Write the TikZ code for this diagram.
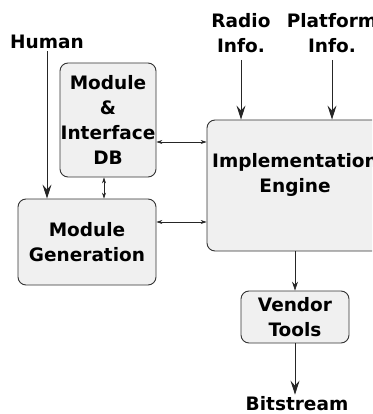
\documentclass[tikz,border=0pt]{standalone}
\usepackage{fontspec}
\setmainfont{DejaVu Sans}
\usetikzlibrary{arrows.meta}

\begin{document}
\begin{tikzpicture}[x=1pt,y=-1pt,
    font=\fontsize{18.5}{25}\selectfont\bfseries,
    block/.style={draw=black!80, line width=0.9pt, fill=black!6,
      rounded corners=8pt, align=center, inner sep=0pt},
    word/.style={align=center, inner sep=2pt},
    feed/.style={draw=black!85, line width=0.8pt,
      -{Stealth[length=14pt,width=9pt,inset=5pt]}},
    pass/.style={draw=black!85, line width=0.7pt,
      -{Stealth[length=9pt,width=6pt,inset=3pt]}},
    link/.style={draw=black!85, line width=0.6pt,
      {Stealth[length=6pt,width=4pt,inset=2pt]}-{Stealth[length=6pt,width=4pt,inset=2pt]}}]
  \useasboundingbox (0,0) rectangle (372,414);
  \clip (0,0) rectangle (372,414);

  \node (db) [block, minimum width=96pt, minimum height=114pt]
    at (108,120) {Module\\\&\\Interface\\DB};
  \node (gen) [block, minimum width=138pt, minimum height=86pt]
    at (87,242) {Module\\Generation};
  \node (eng) [block, minimum width=176pt, minimum height=131pt]
    at (295,185.5) {};
  \node [word] at ([yshift=10.5pt]eng.center) {Implementation\\Engine};
  \node (vendor) [block, minimum width=108pt, minimum height=52pt]
    at (295,317) {Vendor\\Tools};

  \node (human) [word] at (47,42) {Human};
  \node (radio) [word] at (241,33) {Radio\\Info.};
  \node (platform) [word] at (332,33) {Platform\\Info.};
  \node (bits) [word] at (297,404) {Bitstream};

  \draw [feed] (human.south) -- (human.south |- gen.north);
  \draw [feed, shorten <=5pt] (radio.south) -- (radio.south |- eng.north);
  \draw [feed, shorten <=5pt] (platform.south) -- (platform.south |- eng.north);
  \draw [feed] (vendor.south) -- (vendor.south |- bits.north);
  \draw [pass] (vendor.north |- eng.south) -- (vendor.north);

  \draw [link] ([yshift=-22pt]db.east) -- ([yshift=-22pt]db.east -| eng.west);
  \draw [link] ([xshift=-4pt]db.south) -- ([xshift=-4pt]db.south |- gen.north);
  \draw [link] ([yshift=20pt]gen.east) -- ([yshift=20pt]gen.east -| eng.west);
\end{tikzpicture}
\end{document}
